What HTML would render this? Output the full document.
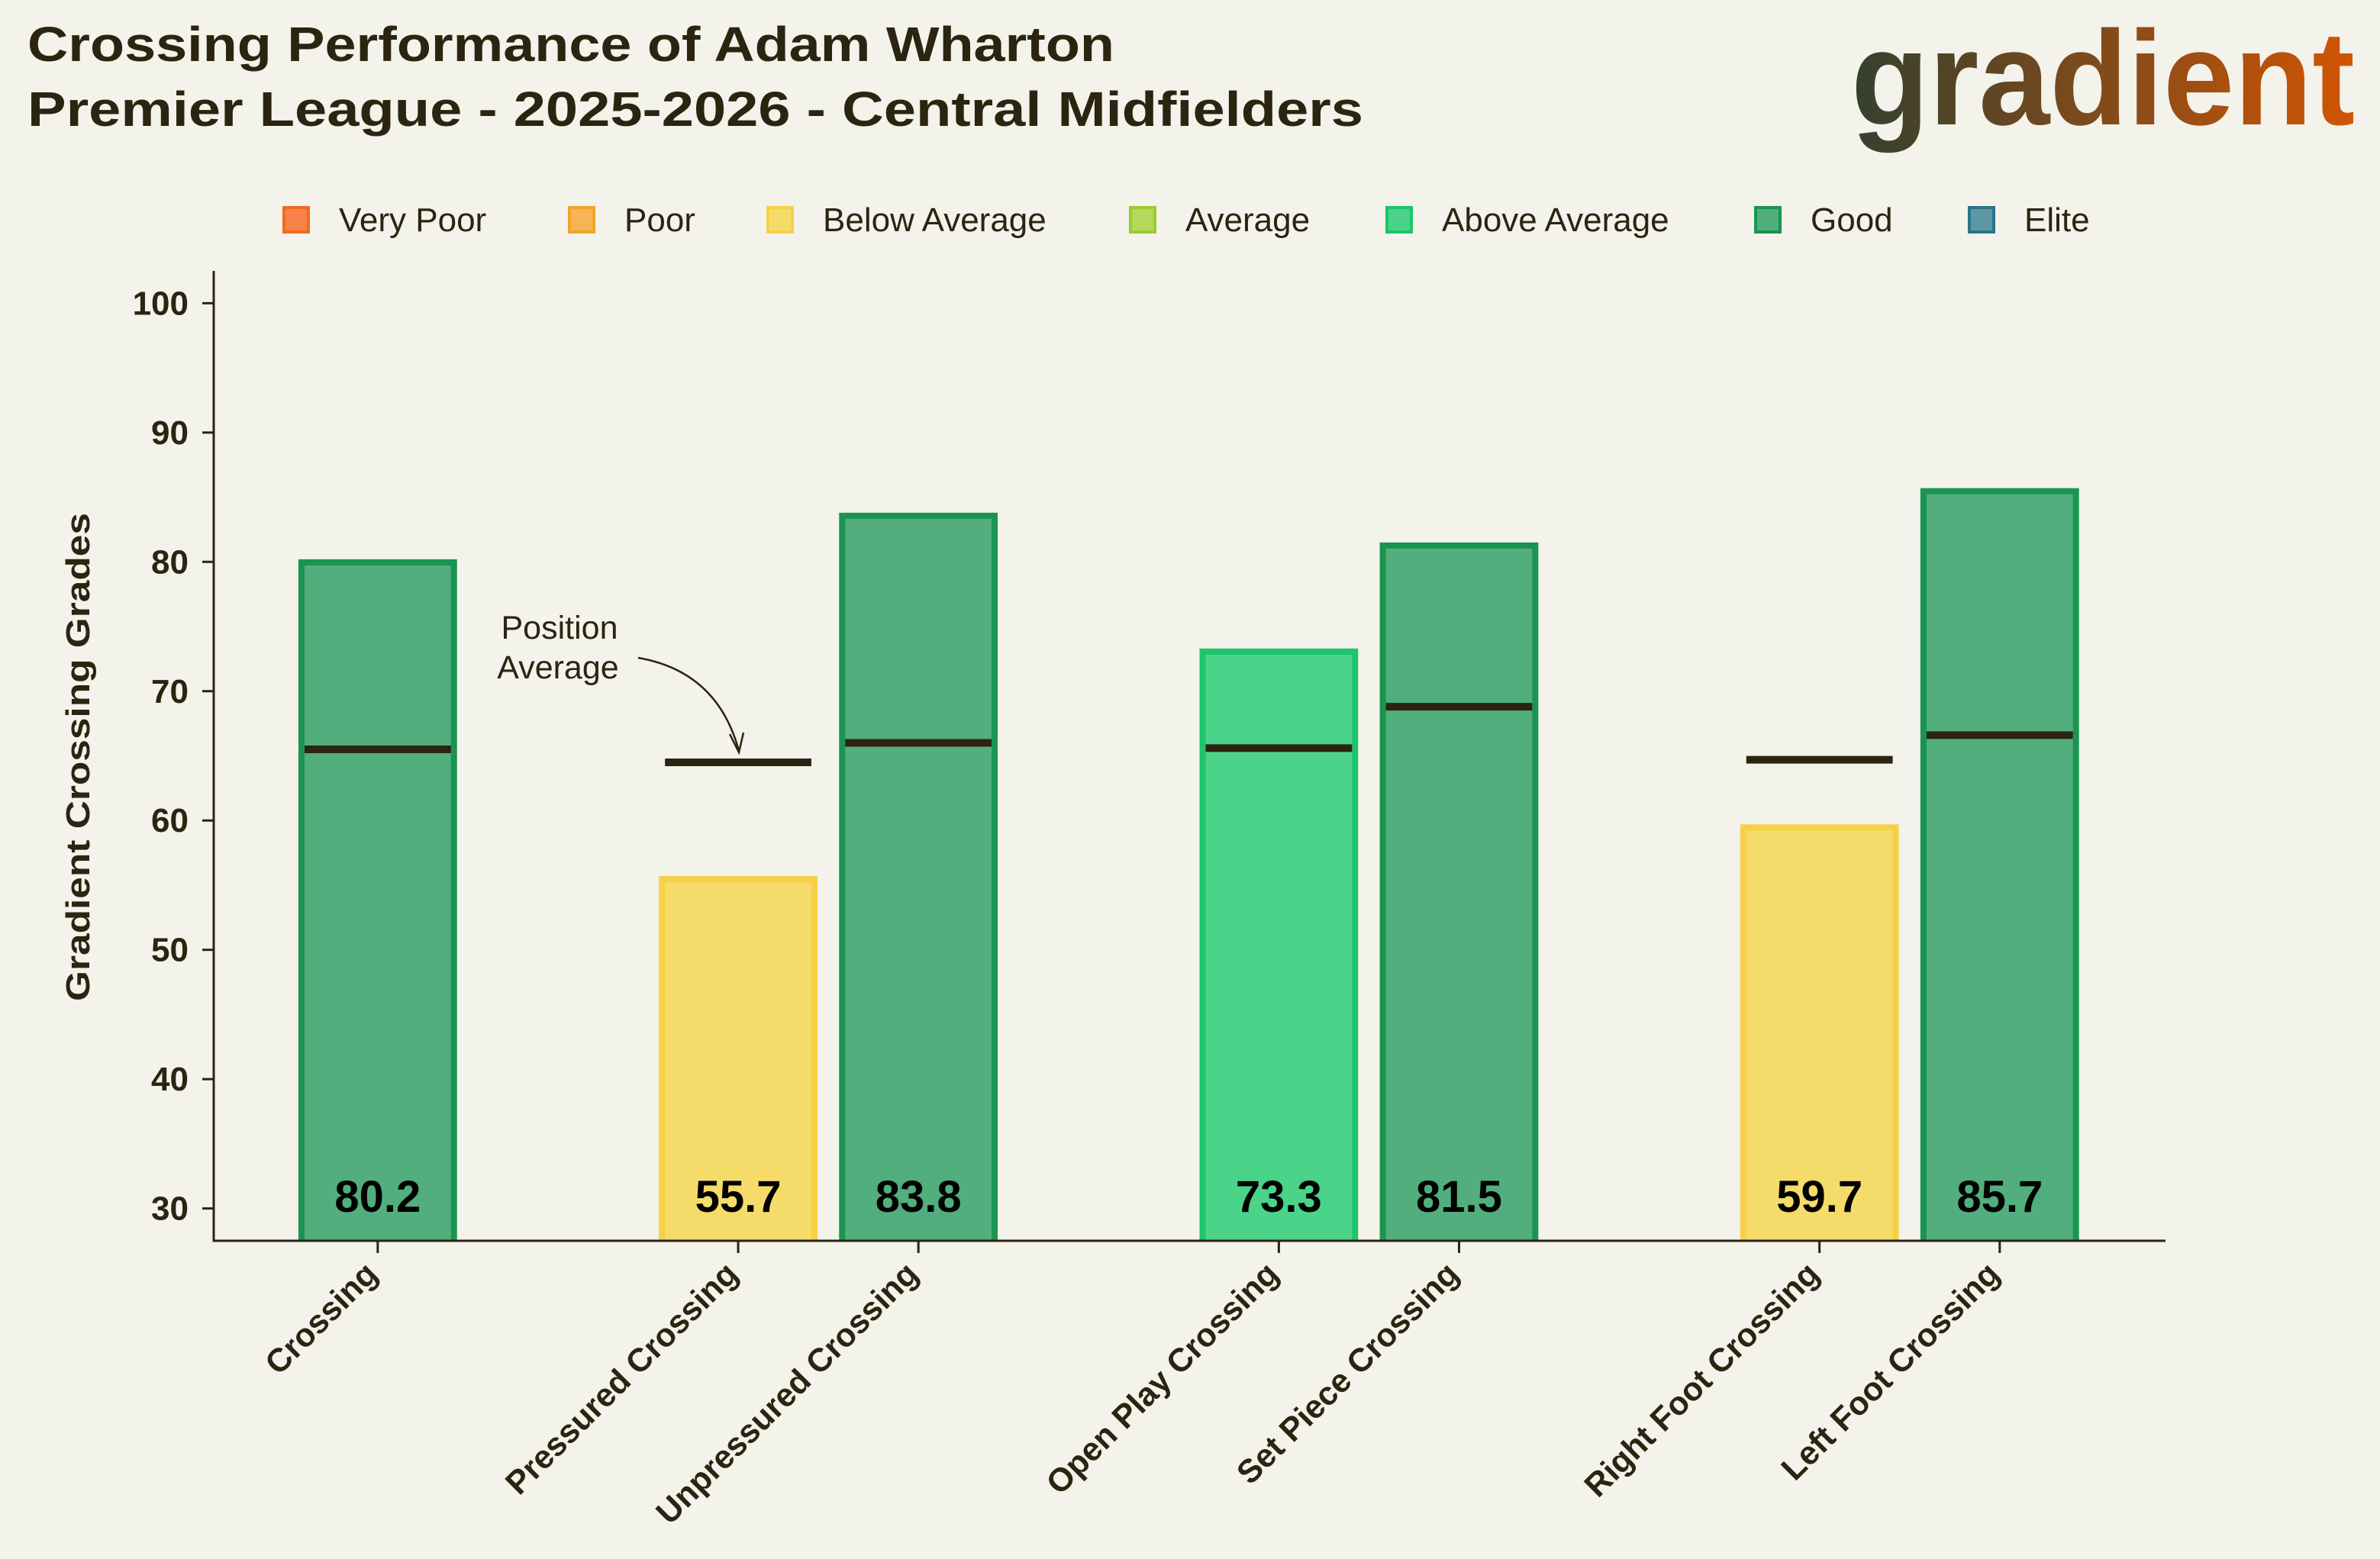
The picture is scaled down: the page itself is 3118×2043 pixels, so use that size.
<!DOCTYPE html>
<html><head><meta charset="utf-8">
<style>
html,body{margin:0;padding:0;background:#f3f2eb;}
svg{display:block;font-family:"Liberation Sans",sans-serif;}
</style></head>
<body>
<svg id="chart" width="3118" height="2043" viewBox="0 0 3118 2043" xmlns="http://www.w3.org/2000/svg">
<defs>
<linearGradient id="logoGrad" x1="0" x2="1" y1="0" y2="0">
<stop offset="0" stop-color="#34402f"/><stop offset="0.45" stop-color="#7a4a1c"/><stop offset="1" stop-color="#d25504"/>
</linearGradient>
<clipPath id="plotClip"><rect x="280" y="300" width="2560" height="1326"/></clipPath>
</defs>
<rect width="3118" height="2043" fill="#f3f2eb"/>
<text x="36" y="80" font-size="64" font-weight="bold" fill="#2b2410" textLength="1424" lengthAdjust="spacingAndGlyphs">Crossing Performance of Adam Wharton</text>
<text x="36" y="165" font-size="64" font-weight="bold" fill="#2b2410" textLength="1750" lengthAdjust="spacingAndGlyphs">Premier League - 2025-2026 - Central Midfielders</text>
<text x="2425" y="163" font-size="176" font-weight="bold" fill="url(#logoGrad)" textLength="660" lengthAdjust="spacingAndGlyphs">gradient</text>
<g id="legend"></g>
<g id="plot"></g>
</svg>
<script>
const categories = ["Crossing","Pressured Crossing","Unpressured Crossing","Open Play Crossing","Set Piece Crossing","Right Foot Crossing","Left Foot Crossing"];
const positions = [0,2,3,5,6,8,9];
const grades = [80.2,55.7,83.8,73.3,81.5,59.7,85.7];
const averages = [65.5,64.5,66.0,65.6,68.8,64.7,66.6];
const yTicks = [30,40,50,60,70,80,90,100];
const legendLabels = ["Very Poor","Poor","Below Average","Average","Above Average","Good","Elite"];

const NS = "http://www.w3.org/2000/svg";
const fills = {"Very Poor":["#f7834a","#f26a1f"],"Poor":["#f5b455","#f0a42a"],"Below Average":["#f5db6a","#f7d046"],"Average":["#b4d95a","#9ccb2f"],"Above Average":["#4bd38a","#1ec46b"],"Good":["#52ae7c","#1a9450"],"Elite":["#5e98a3","#2a7589"]};
function category(v){ if(v<40)return "Very Poor"; if(v<50)return "Poor"; if(v<60)return "Below Average"; if(v<70)return "Average"; if(v<80)return "Above Average"; if(v<90)return "Good"; return "Elite"; }
const yMin=27.5,yMax=102.5,plotTop=355,plotBot=1626;
const xMin=-0.91,xMax=9.92,plotL=280,plotR=2837;
function ys(v){return plotBot-(v-yMin)/(yMax-yMin)*(plotBot-plotTop);}
function xs(v){return plotL+(v-xMin)/(xMax-xMin)*(plotR-plotL);}
function mk(tag,attrs,parent){const e=document.createElementNS(NS,tag);for(const k in attrs)e.setAttribute(k,attrs[k]);parent.appendChild(e);return e;}
const plot=document.getElementById('plot');
const legend=document.getElementById('legend');
const ink="#2b2410";

// legend
const legX=[388,762,1022,1497,1833,2316,2596];
legendLabels.forEach((l,i)=>{
  const r=mk('rect',{x:legX[i]-16,y:272,width:32,height:32,fill:fills[l][0],stroke:fills[l][1],'stroke-width':4},legend);
  
  
  const t=mk('text',{x:legX[i]+56,y:303,'font-size':44,fill:ink},legend);
  t.textContent=l;
  
  
});

// bars
const bw=0.88;
const barG=mk('g',{'clip-path':'url(#plotClip)'},plot);


grades.forEach((g,i)=>{
  const c=category(g);
  const x0=xs(positions[i]-bw/2),x1=xs(positions[i]+bw/2);
  const r=mk('rect',{x:x0+4,y:ys(g)+4,width:x1-x0-8,height:plotBot-ys(g),fill:fills[c][0],stroke:fills[c][1],'stroke-width':8},barG);
  
  
  const a=mk('line',{x1:x0+8,x2:x1-8,y1:ys(averages[i]),y2:ys(averages[i]),stroke:ink,'stroke-width':10},plot);
  
  
  const t=mk('text',{x:xs(positions[i]),y:1588,'font-size':58,'font-weight':'bold','text-anchor':'middle',fill:'#000'},plot);
  t.textContent=g.toFixed(1);
  
  
  const tk=mk('line',{x1:xs(positions[i]),x2:xs(positions[i]),y1:plotBot,y2:plotBot+16,stroke:ink,'stroke-width':3},plot);
  
  
  const xl=mk('text',{x:0,y:0,'font-size':43,'font-weight':'bold','text-anchor':'end',fill:ink,transform:`translate(${xs(positions[i])+2},${plotBot+46}) rotate(-45)`},plot);
  xl.textContent=categories[i];
  
  
});

// axes
const ax=mk('path',{d:`M${plotL},${plotTop} V${plotBot} H${plotR}`,fill:'none',stroke:ink,'stroke-width':3},plot);


yTicks.forEach(v=>{
  const l=mk('line',{x1:plotL-15,x2:plotL,y1:ys(v),y2:ys(v),stroke:ink,'stroke-width':3},plot);
  
  
  const t=mk('text',{x:247,y:ys(v)+15,'font-size':44,'font-weight':'bold','text-anchor':'end',fill:ink},plot);
  t.textContent=v;
  
  
});
const yl=mk('text',{x:0,y:0,'font-size':44,'font-weight':'bold','text-anchor':'middle',fill:ink,transform:'translate(117,992) rotate(-90)',textLength:640,lengthAdjust:'spacingAndGlyphs'},plot);
yl.textContent="Gradient Crossing Grades";



// annotation
const an=mk('text',{x:731,y:837,'font-size':43,'text-anchor':'middle',fill:ink},plot);
an.innerHTML='<tspan x="733" dy="0">Position</tspan><tspan x="731" dy="52">Average</tspan>';


const ar=mk('path',{d:'M836,862 Q940,880 968,984',fill:'none',stroke:ink,'stroke-width':2.5},plot);


const ah=mk('path',{d:'M956,962 L968,986 L974,960',fill:'none',stroke:ink,'stroke-width':2.5},plot);


</script>
</body></html>
